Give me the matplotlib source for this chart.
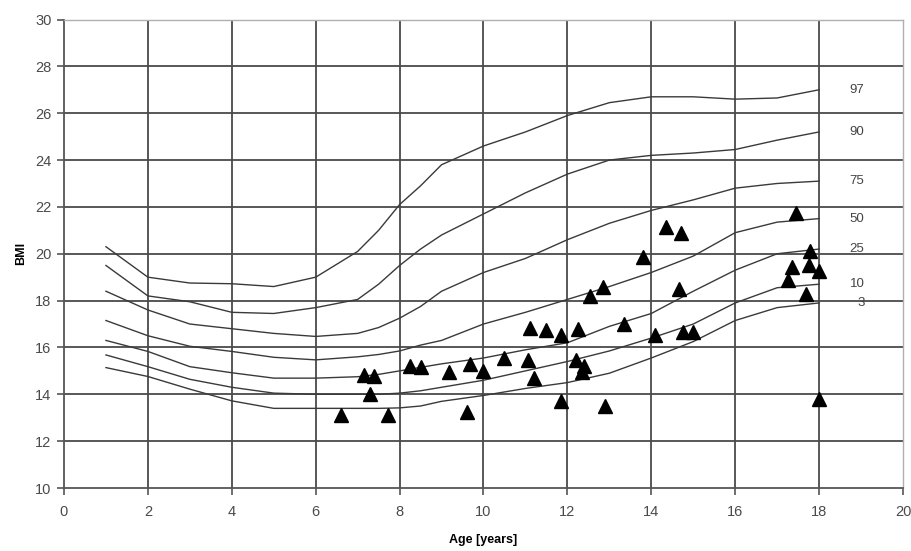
import matplotlib
matplotlib.use("Agg")
import matplotlib.pyplot as plt

# ---- data ----
ages = [1, 2, 3, 4, 5, 6, 7, 7.5, 8, 8.5, 9, 10, 11, 12, 13, 14, 15, 16, 17, 18]
p97 = [20.3, 19.0, 18.75, 18.72, 18.6, 19.0, 20.1, 21.0, 22.1, 22.9, 23.8, 24.6, 25.2, 25.9, 26.45, 26.7, 26.7, 26.6, 26.65, 27.0]
p90 = [19.5, 18.2, 17.95, 17.5, 17.45, 17.7, 18.05, 18.7, 19.5, 20.2, 20.8, 21.7, 22.6, 23.4, 24.0, 24.2, 24.3, 24.45, 24.85, 25.2]
p75 = [18.4, 17.6, 17.0, 16.8, 16.6, 16.47, 16.6, 16.85, 17.25, 17.75, 18.4, 19.2, 19.8, 20.6, 21.3, 21.85, 22.3, 22.8, 23.0, 23.1]
p50 = [17.15, 16.5, 16.05, 15.83, 15.58, 15.47, 15.6, 15.7, 15.85, 16.1, 16.3, 17.0, 17.5, 18.05, 18.6, 19.2, 19.9, 20.9, 21.35, 21.5]
p25 = [16.3, 15.83, 15.18, 14.92, 14.69, 14.69, 14.75, 14.85, 15.0, 15.15, 15.3, 15.55, 15.9, 16.2, 16.9, 17.45, 18.4, 19.3, 20.0, 20.2]
p10 = [15.68, 15.18, 14.64, 14.3, 14.05, 14.0, 14.0, 14.0, 14.05, 14.15, 14.3, 14.6, 15.0, 15.4, 15.85, 16.4, 17.0, 17.9, 18.55, 18.7]
p3 = [15.14, 14.76, 14.22, 13.72, 13.4, 13.4, 13.4, 13.4, 13.42, 13.5, 13.7, 13.95, 14.25, 14.5, 14.9, 15.55, 16.25, 17.15, 17.7, 17.9]
curve_labels = ["97", "90", "75", "50", "25", "10", "3"]

patient_age = [6.60, 7.15, 7.40, 7.30, 7.72, 8.25, 8.50, 9.18, 9.60, 9.68,
               10.00, 10.50, 11.10, 11.05, 11.20, 11.50, 11.85, 11.85, 12.25, 12.20,
               12.40, 12.35, 12.55, 12.85, 12.90, 13.35, 13.80, 14.10, 14.35, 14.70,
               14.65, 14.75, 15.00, 17.46, 17.78, 17.36, 17.76, 18.00, 17.27, 17.68,
               18.00]
patient_bmi = [13.12, 14.83, 14.80, 14.00, 13.10, 15.20, 15.15, 14.95, 13.25, 15.30,
               15.00, 15.55, 16.85, 15.45, 14.70, 16.75, 16.55, 13.70, 16.80, 15.45,
               15.20, 14.95, 18.20, 18.60, 13.50, 17.00, 19.85, 16.55, 21.15, 20.90,
               18.50, 16.65, 16.65, 21.75, 20.10, 19.43, 19.53, 19.27, 18.89, 18.29,
               13.80]

x_ticks = [0, 2, 4, 6, 8, 10, 12, 14, 16, 18, 20]
y_ticks = [10, 12, 14, 16, 18, 20, 22, 24, 26, 28, 30]

plt.rcParams['font.family'] = ['Liberation Sans', 'DejaVu Sans']

fig = plt.figure(figsize=(9.11, 5.51), dpi=100)
ax = fig.add_axes([64 / 911, 1 - 488 / 551, (903 - 64) / 911, (488 - 19.5) / 551])

grid_c = '#4a4a4a'
for xv in x_ticks[1:-1]:
    ax.axvline(xv, color=grid_c, lw=1.3, zorder=1)
for yv in y_ticks[1:]:
    ax.axhline(yv, color=grid_c, lw=1.3, zorder=1)

for vals, lab in zip([p97, p90, p75, p50, p25, p10, p3], curve_labels):
    ax.plot(ages, vals, color='#3a3a3a', lw=1.0, zorder=2)
    ax.text(19.08, vals[-1], lab, ha='right', va='center', fontsize=9.5, color='#444444')

ax.plot(patient_age, patient_bmi, linestyle='none', marker='^', markersize=10.5,
        color='black', zorder=3)

ax.set_xlim(0, 20)
ax.set_ylim(10, 30)
ax.set_xticks(x_ticks)
ax.set_yticks(y_ticks)
ax.tick_params(axis='both', direction='out', length=5, width=1.2, color='#555555',
               labelsize=10.5, labelcolor='#4a4a4a')
ax.tick_params(axis='y', pad=4)
ax.tick_params(axis='x', pad=7)

for s in ['left', 'bottom']:
    ax.spines[s].set_color('#555555')
    ax.spines[s].set_linewidth(1.3)
ax.spines['right'].set_color('#b0b0b0')
ax.spines['top'].set_color('#b0b0b0')
ax.spines['right'].set_linewidth(1.0)
ax.spines['top'].set_linewidth(1.0)

ax.set_xlabel('Age [years]', fontsize=9, fontweight='bold', labelpad=11)
ax.set_ylabel('BMI', fontsize=9, fontweight='bold', labelpad=6)

fig.savefig('out.png', dpi=100, facecolor='white')
